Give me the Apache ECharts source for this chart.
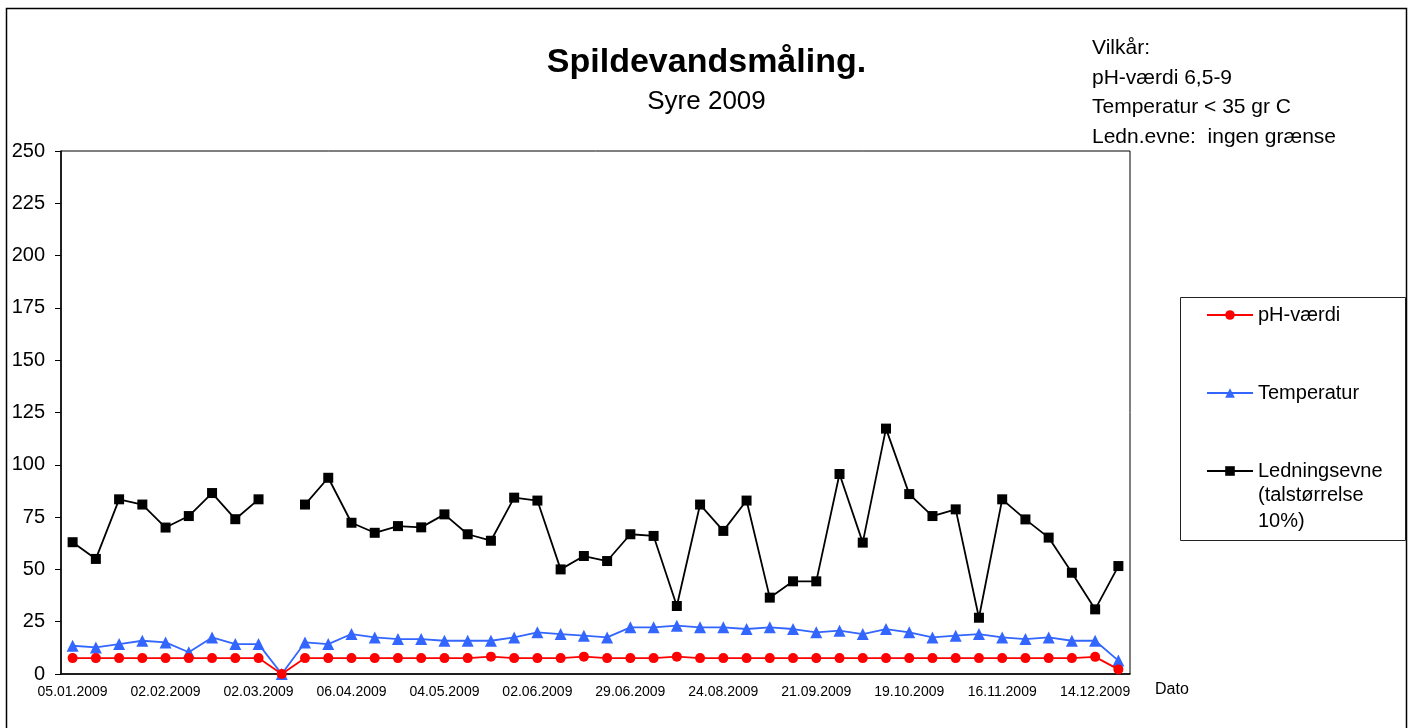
<!DOCTYPE html>
<html>
<head>
<meta charset="utf-8">
<script src="https://cdn.jsdelivr.net/npm/echarts@6/dist/echarts.min.js"></script>
<style>
html,body{margin:0;padding:0;background:#fff;}
#chart{width:1413px;height:728px;}
</style>
</head>
<body>
<div id="chart"></div>
<script>
const dates = [
  '05.01.2009','12.01.2009','19.01.2009','26.01.2009','02.02.2009','09.02.2009','16.02.2009','23.02.2009',
  '02.03.2009','09.03.2009','16.03.2009','23.03.2009','06.04.2009','14.04.2009','20.04.2009','27.04.2009',
  '04.05.2009','11.05.2009','18.05.2009','25.05.2009','02.06.2009','08.06.2009','15.06.2009','22.06.2009',
  '29.06.2009','06.07.2009','10.08.2009','17.08.2009','24.08.2009','31.08.2009','07.09.2009','14.09.2009',
  '21.09.2009','28.09.2009','05.10.2009','12.10.2009','19.10.2009','26.10.2009','02.11.2009','09.11.2009',
  '16.11.2009','23.11.2009','30.11.2009','07.12.2009','14.12.2009','21.12.2009'
];
const phValues = [
  7.6,7.6,7.6,7.6,7.6,7.6,7.6,7.6,7.6,0,7.6,7.6,7.6,7.6,7.6,7.6,
  7.6,7.6,8.3,7.6,7.6,7.6,8.3,7.6,7.6,7.6,8.3,7.6,7.6,7.6,7.6,7.6,
  7.6,7.6,7.6,7.6,7.6,7.6,7.6,7.6,7.6,7.6,7.6,7.6,8.2,2.2
];
const tempValues = [
  13.5,12.7,14.3,15.9,15.1,10.4,17.5,14.3,14.3,0,15.1,14.3,19.1,17.5,16.7,16.7,
  15.9,15.9,15.9,17.5,19.9,19.1,18.3,17.5,22.3,22.3,23.1,22.3,22.3,21.5,22.3,21.5,
  19.9,20.7,19.1,21.5,19.9,17.5,18.3,19.1,17.5,16.7,17.5,15.9,15.9,6.4
];
const condValues = [
  63,55,83.5,81,70,75.5,86.5,74,83.5,null,81,93.8,72.3,67.5,70.7,70.1,
  76.3,66.8,63.7,84.3,82.9,50,56.4,54,66.8,66,32.5,81,68.4,82.9,36.5,44.3,
  44.3,95.6,62.8,117.3,86,75.5,78.7,26.9,83.5,73.9,65.2,48.4,30.9,51.6
];
const seriesNames = ['pH-værdi','Temperatur','Ledningsevne'];
const conditionLines = ['Vilkår:','pH-værdi 6,5-9','Temperatur < 35 gr C','Ledn.evne:  ingen grænse'];
const legendExtraLines = ['(talstørrelse','10%)'];

const FONT = '"Liberation Sans", Arial, sans-serif';
const chart = echarts.init(document.getElementById('chart'), null, {renderer:'canvas'});

const graphics = [
  {type:'rect', silent:true, z:-1, shape:{x:6.5,y:8.5,width:1400,height:740},
   style:{fill:'none', stroke:'#000', lineWidth:1.5}},
  {type:'rect', silent:true, shape:{x:1180.5,y:297.5,width:225,height:243},
   style:{fill:'none', stroke:'#222', lineWidth:1}},
  {type:'text', left:1155, top:682, style:{text:'Dato', font:'16px '+FONT, fill:'#000'}}
];
conditionLines.forEach((t,i)=>{
  graphics.push({type:'text', left:1092, top:38+i*29.5, style:{text:t, font:'21px '+FONT, fill:'#000'}});
});
legendExtraLines.forEach((t,i)=>{
  graphics.push({type:'text', left:1258, top:485+i*26, style:{text:t, font:'20px '+FONT, fill:'#000'}});
});

chart.setOption({
  animation:false,
  backgroundColor:'#fff',
  title:[
    {text:'Spildevandsmåling.', left:'center', top:46, padding:0,
     textStyle:{fontFamily:FONT, fontSize:34, fontWeight:'bold', color:'#000'}},
    {text:'Syre 2009', left:'center', top:89, padding:0,
     textStyle:{fontFamily:FONT, fontSize:26, fontWeight:'normal', color:'#000'}}
  ],
  legend:{
    orient:'vertical', left:1201, top:300, itemWidth:46, itemHeight:12, itemGap:58,
    data:seriesNames,
    textStyle:{fontFamily:FONT, fontSize:20, color:'#000', lineHeight:20}
  },
  grid:{left:61, right:283, top:151, bottom:54, show:true, borderColor:'#000', borderWidth:1, backgroundColor:'transparent'},
  xAxis:{
    type:'category', data:dates, boundaryGap:true,
    axisLine:{lineStyle:{color:'#000', width:1.5}},
    axisTick:{interval:0, length:6, lineStyle:{color:'#000'}},
    axisLabel:{interval:3, fontFamily:FONT, fontSize:14, color:'#000', margin:11},
    splitLine:{show:false}
  },
  yAxis:{
    type:'value', min:0, max:250, interval:25,
    axisLine:{show:true, lineStyle:{color:'#000', width:1.5}},
    axisTick:{show:true, length:6, lineStyle:{color:'#000'}},
    axisLabel:{fontFamily:FONT, fontSize:20, color:'#000', margin:16},
    splitLine:{show:false}
  },
  series:[
    {name:seriesNames[0], type:'line', data:phValues, symbol:'circle', symbolSize:10,
     lineStyle:{color:'#ff0000', width:1.8}, itemStyle:{color:'#ff0000'}, z:3},
    {name:seriesNames[1], type:'line', data:tempValues, symbol:'triangle', symbolSize:12,
     lineStyle:{color:'#3366ff', width:1.8}, itemStyle:{color:'#3366ff'}, z:2},
    {name:seriesNames[2], type:'line', data:condValues, symbol:'rect', symbolSize:10, connectNulls:false,
     lineStyle:{color:'#000', width:1.8}, itemStyle:{color:'#000'}, z:4}
  ],
  graphic:graphics
});
</script>
</body>
</html>
